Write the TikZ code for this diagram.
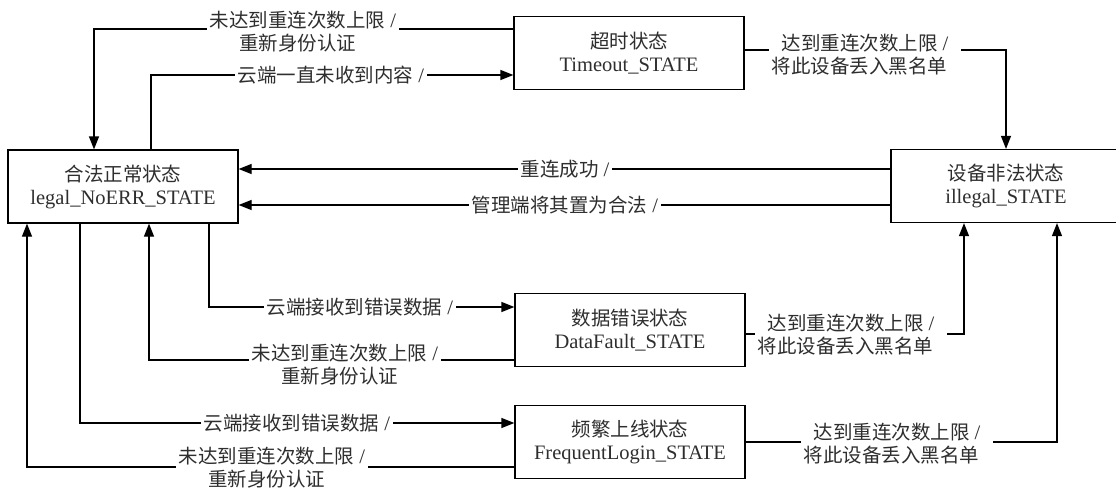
\documentclass[tikz,border=0pt]{standalone}
\usepackage{fontspec}
\setmainfont{Liberation Serif}
\newfontfamily\cjk[Scale=0.95]{Noto Sans CJK SC}
\usetikzlibrary{arrows.meta}
\newcommand\zh[1]{{\cjk #1}}
\definecolor{txt}{HTML}{2E2E2E}
\begin{document}
\begin{tikzpicture}[x=1pt,y=-1pt,
  state/.style={draw=black,line width=1.2pt,minimum width=230pt,minimum height=73pt,
    align=center,text=txt,font=\fontsize{20.5}{23}\selectfont,inner sep=0pt},
  lab/.style={fill=white,align=center,text=txt,font=\fontsize{20.5}{23}\selectfont,inner sep=3pt},
  conn/.style={line width=1.2pt,-{Triangle[length=13pt,width=10pt]}}]
\useasboundingbox (0,0) rectangle (1116,490);

\node[state] (legal) at (123,186.5) {\zh{合法正常状态}\\legal\_NoERR\_STATE};
\node[state] (timeout) at (629,53) {\zh{超时状态}\\Timeout\_STATE};
\node[state] (illegal) at (1006,186) {\zh{设备非法状态}\\illegal\_STATE};
\node[state] (datafault) at (630,330) {\zh{数据错误状态}\\DataFault\_STATE};
\node[state] (frequent) at (630,442) {\zh{频繁上线状态}\\FrequentLogin\_STATE};

\draw[conn] (timeout.west |- 0,29) -| (legal.north -| 94,0);
\draw[conn] (legal.north -| 151,0) |- (timeout.west |- 0,75);
\draw[conn] (timeout.east |- 0,50) -| (illegal.north);
\draw[conn] (illegal.west |- 0,169) -- (legal.east |- 0,169);
\draw[conn] (illegal.west |- 0,205) -- (legal.east |- 0,205);
\draw[conn] (legal.south -| 209,0) |- (datafault.west |- 0,307);
\draw[conn] (datafault.west |- 0,360) -| (legal.south -| 149,0);
\draw[conn] (legal.south -| 80,0) |- (frequent.west |- 0,423);
\draw[conn] (frequent.west |- 0,467) -| (legal.south -| 27,0);
\draw[conn] (datafault.east |- 0,334) -| (illegal.south -| 964,0);
\draw[conn] (frequent.east |- 0,442) -| (illegal.south -| 1057,0);

\node[lab] (l1) at (303,31.5) {\zh{未达到重连次数上限} /\\\zh{重新身份认证}\hphantom{ /}};
\node[lab] (l2) at (331,75) {\zh{云端一直未收到内容} /};
\node[lab] (l3) at (865,55) {\zh{达到重连次数上限} /\\\zh{将此设备丢入黑名单}\hphantom{ /}};
\node[lab] (l4) at (565,169) {\zh{重连成功} /};
\node[lab] (l5) at (565,205) {\zh{管理端将其置为合法} /};
\node[lab] (l6) at (360,307) {\zh{云端接收到错误数据} /};
\node[lab] (l7) at (345,364.5) {\zh{未达到重连次数上限} /\\\zh{重新身份认证}\hphantom{ /}};
\node[lab] (l8) at (297,423) {\zh{云端接收到错误数据} /};
\node[lab] (l9) at (272,467.5) {\zh{未达到重连次数上限} /\\\zh{重新身份认证}\hphantom{ /}};
\node[lab] (l10) at (851,335) {\zh{达到重连次数上限} /\\\zh{将此设备丢入黑名单}\hphantom{ /}};
\node[lab] (l11) at (897,443.5) {\zh{达到重连次数上限} /\\\zh{将此设备丢入黑名单}\hphantom{ /}};
\end{tikzpicture}
\end{document}
